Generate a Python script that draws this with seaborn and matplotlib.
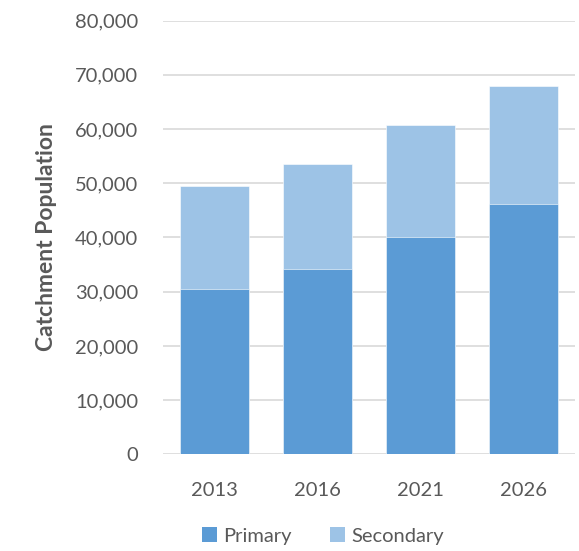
import matplotlib
matplotlib.use("Agg")
import matplotlib.pyplot as plt
import seaborn as sns
import pandas as pd
from matplotlib.patches import Patch
from matplotlib.ticker import FuncFormatter

years = ["2013", "2016", "2021", "2026"]
primary = [30500, 34100, 40100, 46200]
secondary = [19000, 19500, 20600, 21700]
series_names = ["Primary", "Secondary"]
colors = ["#5B9BD5", "#9DC3E6"]

totals = [p + s for p, s in zip(primary, secondary)]
df = pd.DataFrame({"year": years, "primary": primary, "total": totals})

sns.set_style("white")
plt.rcParams["font.family"] = ["Lato", "DejaVu Sans"]

fig = plt.figure(figsize=(5.79, 5.51), dpi=100)
ax = fig.add_axes([0.2815, 0.1755, 0.7115, 0.787])

sns.barplot(data=df, x="year", y="total", color=colors[1], saturation=1,
            width=0.665, ax=ax, edgecolor="white", linewidth=0.4, zorder=3)
sns.barplot(data=df, x="year", y="primary", color=colors[0], saturation=1,
            width=0.665, ax=ax, edgecolor="white", linewidth=0.4, zorder=3)

ax.set_ylim(0, 80000)
ax.set_xlim(-0.5, 3.5)
ax.set_yticks(range(0, 80001, 10000))
ax.yaxis.set_major_formatter(FuncFormatter(lambda v, p: f"{int(v):,}"))
ax.grid(axis="y", color="#D9D9D9", linewidth=1.2, zorder=0)
ax.set_axisbelow(True)
for s in ax.spines.values():
    s.set_visible(False)
ax.tick_params(axis="both", length=0, labelsize=14.5, colors="#595959")
ax.tick_params(axis="y", pad=18)
ax.tick_params(axis="x", pad=20)
ax.set_xlabel("")
ax.set_ylabel("Catchment Population", fontsize=16.5, fontweight="bold",
              color="#595959", labelpad=13)

handles = [Patch(facecolor=c, edgecolor="none") for c in colors]
fig.legend(handles, series_names, loc="center", bbox_to_anchor=(0.558, 0.027),
           ncol=2, frameon=False, fontsize=14.5, labelcolor="#595959",
           handlelength=0.75, handleheight=0.75, handletextpad=0.3, columnspacing=1.9)

fig.savefig("out.png", dpi=100)
